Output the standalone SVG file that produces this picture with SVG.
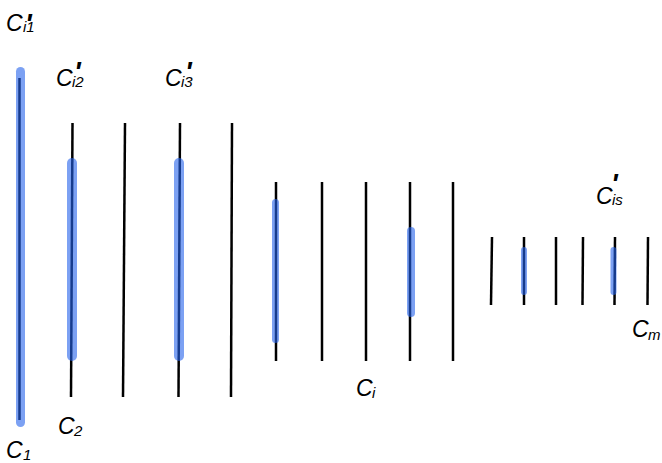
<svg xmlns="http://www.w3.org/2000/svg" width="662" height="463" viewBox="0 0 662 463">
<style>
.bl{stroke:#000;stroke-width:2.5;fill:none}
.hl{stroke:#2563eb;stroke-opacity:0.6;stroke-linecap:round;fill:none}
.t{font-family:"Liberation Sans",Arial,sans-serif;font-style:italic;font-size:23px;fill:#000}
.s{font-size:15px}
.p{font-weight:bold;font-size:28px}
</style>
<rect width="662" height="463" fill="#fff"/>
<g id="connectors">
<line class="bl" x1="19.5" y1="78" x2="19.5" y2="420"/>
<line class="bl" x1="72.5" y1="123" x2="71" y2="397"/>
<line class="bl" x1="125" y1="123" x2="123" y2="397"/>
<line class="bl" x1="180" y1="123" x2="178.5" y2="397"/>
<line class="bl" x1="232" y1="123" x2="231" y2="397"/>
<line class="bl" x1="276" y1="182" x2="276" y2="361"/>
<line class="bl" x1="322" y1="182" x2="322" y2="361"/>
<line class="bl" x1="366" y1="182" x2="366" y2="361"/>
<line class="bl" x1="410" y1="182" x2="410" y2="361"/>
<line class="bl" x1="453" y1="182" x2="453" y2="361"/>
<line class="bl" x1="492" y1="237" x2="491" y2="305"/>
<line class="bl" x1="524" y1="237" x2="524" y2="305"/>
<line class="bl" x1="556" y1="237" x2="556" y2="305"/>
<line class="bl" x1="583" y1="237" x2="582.5" y2="305"/>
<line class="bl" x1="615" y1="237" x2="614.5" y2="305"/>
<line class="bl" x1="648" y1="237" x2="647.5" y2="305"/>
</g>
<g id="highlights">
<line class="hl" stroke-width="9" x1="20.5" y1="71.5" x2="20.5" y2="422.5"/>
<line class="hl" stroke-width="10" x1="72" y1="163" x2="72" y2="356"/>
<line class="hl" stroke-width="10" x1="179" y1="163" x2="179" y2="356"/>
<line class="hl" stroke-width="7" x1="275.5" y1="202.5" x2="275.5" y2="339.5"/>
<line class="hl" stroke-width="8" x1="411" y1="231" x2="411" y2="313"/>
<line class="hl" stroke-width="6" x1="524" y1="250" x2="524" y2="292"/>
<line class="hl" stroke-width="6" x1="613.5" y1="250" x2="613.5" y2="292"/>
</g>
<g id="label-ci1"><text class="t" x="6" y="31">C<tspan class="p" x="25" y="33">'</tspan><tspan class="s" x="23" y="32">i1</tspan></text></g>
<g id="label-ci2"><text class="t" x="56" y="86">C<tspan class="p" x="74" y="81">'</tspan><tspan class="s" x="72" y="87">i2</tspan></text></g>
<g id="label-ci3"><text class="t" x="165" y="86">C<tspan class="p" x="185" y="81">'</tspan><tspan class="s" x="181" y="87">i3</tspan></text></g>
<g id="label-cis"><text class="t" x="596" y="204">C<tspan class="p" x="611" y="193">'</tspan><tspan class="s" x="612" y="205">is</tspan></text></g>
<g id="label-cm"><text class="t" x="632" y="337">C<tspan class="s" x="648" y="340">m</tspan></text></g>
<g id="label-ci"><text class="t" x="356" y="396">C<tspan class="s" x="372" y="398">i</tspan></text></g>
<g id="label-c2"><text class="t" x="58" y="434">C<tspan class="s" x="74" y="436">2</tspan></text></g>
<g id="label-c1"><text class="t" x="6" y="458">C<tspan class="s" x="23" y="460">1</tspan></text></g>
</svg>
